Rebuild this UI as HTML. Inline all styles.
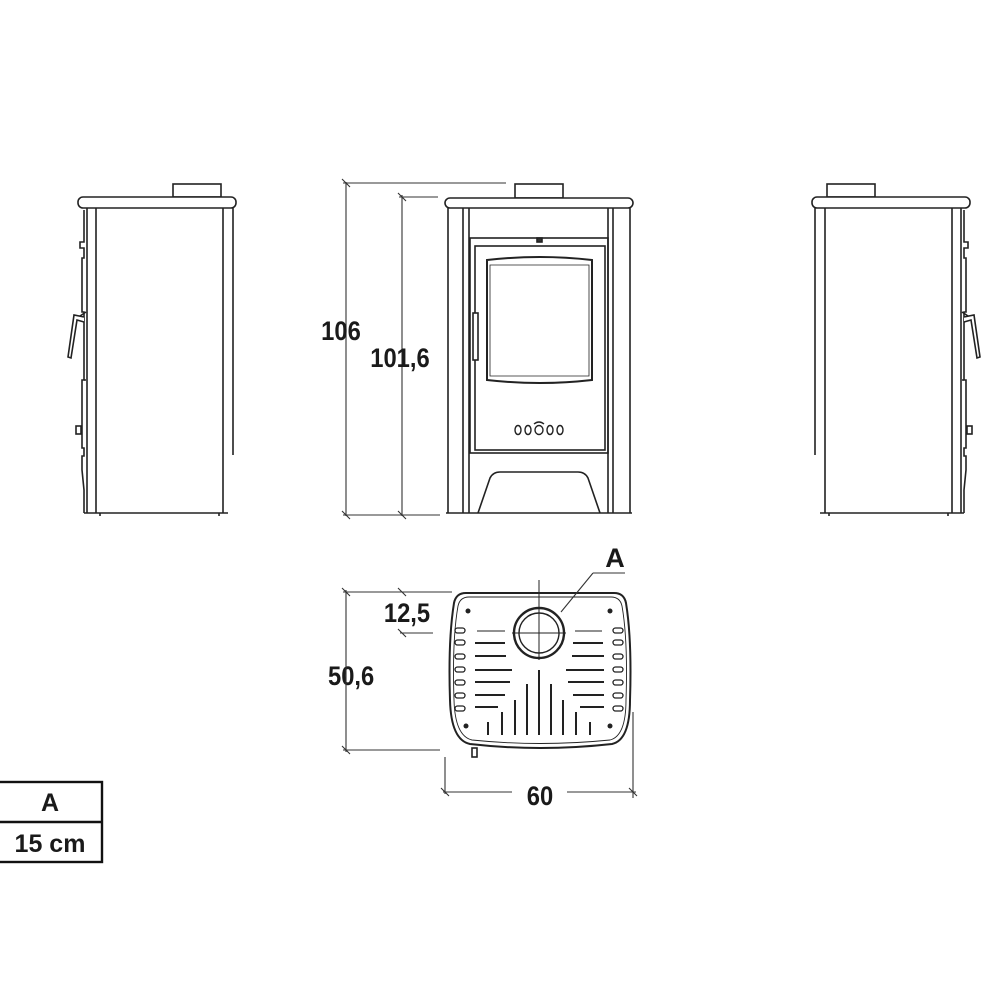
<!DOCTYPE html>
<html><head><meta charset="utf-8"><style>
html,body{margin:0;padding:0;background:#fff;}
svg{display:block}
text{font-family:"Liberation Sans",sans-serif;fill:#1a1a1a;font-weight:bold;}
</style></head><body>
<svg width="1000" height="1000" viewBox="0 0 1000 1000" xmlns="http://www.w3.org/2000/svg">
<defs>
<g id="side" fill="none" stroke="#222" stroke-width="1.6">
  <rect x="173" y="184" width="48" height="13" fill="#fff"/>
  <rect x="78" y="197" width="158" height="11" rx="5" fill="#fff"/>
  <line x1="87" y1="208" x2="87" y2="513"/>
  <line x1="96" y1="208" x2="96" y2="513"/>
  <line x1="223" y1="208" x2="223" y2="513"/>
  <line x1="233" y1="208" x2="233" y2="455"/>
  <line x1="84" y1="513" x2="228" y2="513"/>
  <path d="M84 210 L84 242 L80 242 L80 248 L84 248 L84 258 L82 258 L82 312 L84 312 L84 380 L82 380 L82 448 L84 448 L84 456 L82 456 L82 470 L84 490 L84 513"/>
  <path d="M86 312 L80 316 M86 380 L84 380"/>
  <path d="M84 317 L74 315 L68 357 L71 358 L77 320 L84 322" fill="#fff"/>
  <rect x="76" y="426" width="5" height="8" fill="#fff"/>
  <line x1="100" y1="513" x2="100" y2="516"/>
  <line x1="219" y1="513" x2="219" y2="516"/>
</g>
</defs>

<use href="#side"/>
<g transform="translate(1048,0) scale(-1,1)"><use href="#side"/></g>

<g fill="none" stroke="#222" stroke-width="1.6">
  <rect x="515" y="184" width="48" height="14" fill="#fff"/>
  <rect x="445" y="198" width="188" height="10" rx="5" fill="#fff"/>
  <line x1="448" y1="208" x2="448" y2="513"/>
  <line x1="630" y1="208" x2="630" y2="513"/>
  <line x1="463" y1="208" x2="463" y2="513"/>
  <line x1="469" y1="208" x2="469" y2="513"/>
  <line x1="608" y1="208" x2="608" y2="513"/>
  <line x1="613" y1="208" x2="613" y2="513"/>
  <line x1="446" y1="513" x2="632" y2="513"/>
  <rect x="470" y="238" width="138" height="215"/>
  <rect x="475" y="246" width="130" height="204"/>
  <path d="M487 260 Q540 254 592 260 L592 380 Q540 386 487 380 Z" stroke-width="2"/>
  <path d="M490 265 L589 265 L589 376 L490 376 Z" stroke-width="0.8"/>
  <rect x="473" y="313" width="5" height="47" fill="#fff"/>
  <rect x="537" y="238" width="5" height="4" fill="#333"/>
  <g stroke-width="1.4">
    <ellipse cx="518" cy="430" rx="3" ry="4.5"/>
    <ellipse cx="528" cy="430" rx="3" ry="4.5"/>
    <ellipse cx="539" cy="430" rx="4" ry="4.5"/>
    <ellipse cx="550" cy="430" rx="3" ry="4.5"/>
    <ellipse cx="560" cy="430" rx="3" ry="4.5"/>
    <path d="M534 424 Q539 420 544 424"/>
  </g>
  <path d="M478 513 L490 478 Q493 472 500 472 L578 472 Q585 472 588 478 L600 513"/>
</g>

<g stroke="#333" stroke-width="1.1" fill="none">
  <line x1="346" y1="182" x2="346" y2="516"/>
  <line x1="343" y1="183" x2="506" y2="183"/>
  <line x1="343" y1="515" x2="440" y2="515"/>
  <line x1="402" y1="195" x2="402" y2="516"/>
  <line x1="399" y1="197" x2="438" y2="197"/>
  <path d="M342 179 L350 187 M342 511 L350 519 M398 193 L406 201 M398 511 L406 519"/>
</g>
<g transform="scale(0.88,1)" font-size="27" text-anchor="middle">
  <text x="387.5" y="340">106</text>
  <text x="454.5" y="367">101,6</text>
  <text x="462.5" y="622">12,5</text>
  <text x="399" y="685">50,6</text>
  <text x="613.6" y="805">60</text>
</g>

<g fill="none" stroke="#222" stroke-width="1.6">
  <path d="M466 593 Q456 593 454 603 Q448 640 450 700 Q451 740 470 744 Q540 752 612 744 Q630 740 630 700 Q632 640 626 603 Q624 593 614 593 Z" stroke-width="2"/>
  <path d="M469 597 Q460 597 458 606 Q452 640 454 700 Q455 736 472 740 Q540 747 610 740 Q626 736 626 700 Q628 640 622 606 Q620 597 611 597 Z" stroke-width="0.9"/>
  <circle cx="539" cy="633" r="25" stroke-width="2.4"/>
  <circle cx="539" cy="633" r="20" stroke-width="1.4"/>
  <line x1="512" y1="633" x2="566" y2="633" stroke-width="1"/>
  <line x1="539" y1="580" x2="539" y2="660" stroke-width="1"/>
  <g stroke-width="2">
    <line x1="539" y1="670" x2="539" y2="735"/>
    <line x1="527" y1="684" x2="527" y2="735"/><line x1="551" y1="684" x2="551" y2="735"/>
    <line x1="515" y1="700" x2="515" y2="735"/><line x1="563" y1="700" x2="563" y2="735"/>
    <line x1="502" y1="712" x2="502" y2="735"/><line x1="576" y1="712" x2="576" y2="735"/>
    <line x1="488" y1="722" x2="488" y2="735"/><line x1="590" y1="722" x2="590" y2="735"/>
    <line x1="475" y1="643" x2="505" y2="643"/><line x1="573" y1="643" x2="603" y2="643"/>
    <line x1="475" y1="656" x2="506" y2="656"/><line x1="572" y1="656" x2="604" y2="656"/>
    <line x1="475" y1="670" x2="512" y2="670"/><line x1="566" y1="670" x2="604" y2="670"/>
    <line x1="475" y1="682" x2="510" y2="682"/><line x1="568" y1="682" x2="604" y2="682"/>
    <line x1="475" y1="695" x2="505" y2="695"/><line x1="573" y1="695" x2="604" y2="695"/>
    <line x1="475" y1="707" x2="498" y2="707"/><line x1="580" y1="707" x2="604" y2="707"/>
    <line x1="477" y1="631" x2="505" y2="631" stroke-width="1"/><line x1="575" y1="631" x2="602" y2="631" stroke-width="1"/>
  </g>
  <g stroke-width="1.3">
    <rect x="455" y="628" width="10" height="5" rx="2.5"/><rect x="613" y="628" width="10" height="5" rx="2.5"/>
    <rect x="455" y="640" width="10" height="5" rx="2.5"/><rect x="613" y="640" width="10" height="5" rx="2.5"/>
    <rect x="455" y="654" width="10" height="5" rx="2.5"/><rect x="613" y="654" width="10" height="5" rx="2.5"/>
    <rect x="455" y="667" width="10" height="5" rx="2.5"/><rect x="613" y="667" width="10" height="5" rx="2.5"/>
    <rect x="455" y="680" width="10" height="5" rx="2.5"/><rect x="613" y="680" width="10" height="5" rx="2.5"/>
    <rect x="455" y="693" width="10" height="5" rx="2.5"/><rect x="613" y="693" width="10" height="5" rx="2.5"/>
    <rect x="455" y="706" width="10" height="5" rx="2.5"/><rect x="613" y="706" width="10" height="5" rx="2.5"/>
  </g>
  <rect x="472" y="748" width="5" height="9" fill="#fff"/>
</g>
<g fill="#222"><circle cx="468" cy="611" r="2.5"/><circle cx="610" cy="611" r="2.5"/><circle cx="466" cy="726" r="2.5"/><circle cx="610" cy="726" r="2.5"/></g>

<g stroke="#333" stroke-width="1.1" fill="none">
  <line x1="346" y1="590" x2="346" y2="752"/>
  <line x1="343" y1="592" x2="452" y2="592"/>
  <line x1="343" y1="750" x2="440" y2="750"/>
  <line x1="400" y1="633" x2="433" y2="633"/>
  <line x1="445" y1="757" x2="445" y2="794"/>
  <line x1="633" y1="712" x2="633" y2="798"/>
  <line x1="443" y1="792" x2="512" y2="792"/>
  <line x1="567" y1="792" x2="636" y2="792"/>
  <line x1="593" y1="573" x2="625" y2="573"/>
  <line x1="593" y1="573" x2="561" y2="612"/>
  <path d="M342 588 L350 596 M342 746 L350 754 M398 588 L406 596 M398 629 L406 637 M441 788 L449 796 M629 788 L637 796"/>
</g>
<text x="615" y="567" font-size="27" text-anchor="middle">A</text>

<g stroke="#111" stroke-width="2.4" fill="none">
  <rect x="-2" y="782" width="104" height="80"/>
  <line x1="0" y1="822" x2="102" y2="822"/>
</g>
<text x="50" y="811" font-size="25" text-anchor="middle">A</text>
<text x="50" y="852" font-size="25" text-anchor="middle">15 cm</text>
</svg>
</body></html>
